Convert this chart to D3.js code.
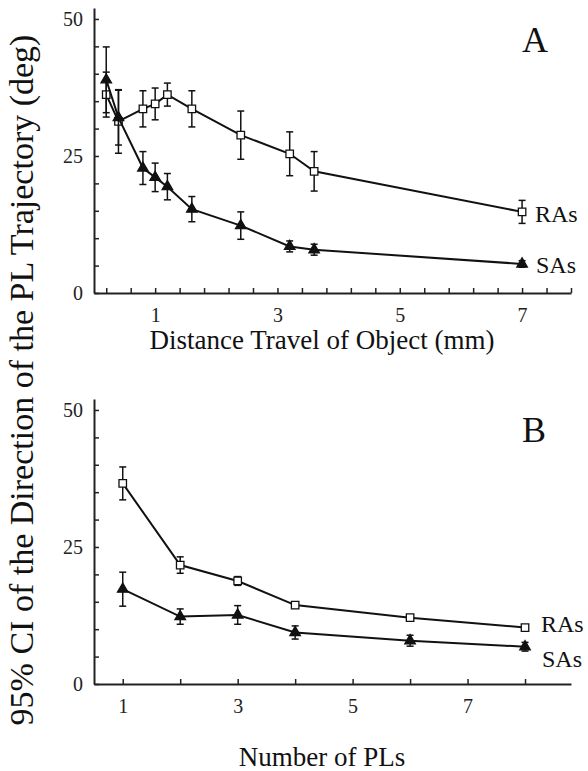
<!DOCTYPE html>
<html>
<head>
<meta charset="utf-8">
<script src="https://cdn.jsdelivr.net/npm/d3@7"></script>
<style>
  body { margin: 0; background: #fff; }
  svg { display: block; font-family: "Liberation Serif", "Times New Roman", serif; }
</style>
</head>
<body>
<svg width="588" height="771"></svg>
<script>
// panel A: distance travelled (mm)
let distA = [0.2, 0.4, 0.8, 1.0, 1.2, 1.6, 2.4, 3.2, 3.6, 7.0]
let raA = [36.2, 31.3, 33.6, 34.5, 36.2, 33.6, 28.8, 25.4, 22.2, 14.8]
let raErrA = [4.1, 5.8, 3.3, 2.9, 2.1, 3.3, 4.4, 4.0, 3.6, 2.1]
let saA = [38.9, 32.0, 22.8, 21.1, 19.4, 15.3, 12.3, 8.5, 7.9, 5.3]
let saErrA = [6.0, 5.0, 3.0, 2.6, 2.4, 2.3, 2.5, 1.0, 1.0, 0.6]

// panel B: number of PLs
let plsB = [1, 2, 3, 4, 6, 8]
let raB = [36.6, 21.7, 18.8, 14.4, 12.1, 10.3]
let raErrB = [3.0, 1.5, 0.8, 0.5, 0.5, 0.3]
let saB = [17.3, 12.3, 12.6, 9.4, 7.9, 6.8]
let saErrB = [3.1, 1.4, 1.7, 1.2, 1.0, 0.8]

// tick positions / labels
let yTicks = d3.range(0, 51, 5)
let yLabels = [0, 25, 50]
let xTicksA = d3.range(0, 20).map(i => +(0.2 + i * 0.4).toFixed(1))
let xTicksB = [1, 2, 3, 4, 5, 6, 7, 8]
let xLabels = [1, 3, 5, 7]

let svg = d3.select('svg')

function panel(cfg) {
    let x = d3.scaleLinear().domain(cfg.xDomain).range([94, 571])
    let y = d3.scaleLinear().domain([0, 52]).range([cfg.y0, cfg.y0 - 285])
    let g = svg.append('g')

    // axes, ticks pointing inward
    let yAxis = d3.axisLeft(y).tickValues(yTicks).tickSizeInner(-5).tickSizeOuter(0).tickPadding(11)
        .tickFormat(d => yLabels.includes(d) ? d : '')
    let xAxis = d3.axisBottom(x).tickValues(cfg.xTicks).tickSizeInner(-5).tickSizeOuter(0).tickPadding(23)
        .tickFormat(d => xLabels.some(v => Math.abs(v - d) < 1e-6) ? Math.round(d) : '')

    let ya = g.append('g').attr('transform', 'translate(94,0)').call(yAxis)
    let xa = g.append('g').attr('transform', `translate(0,${cfg.y0})`).call(xAxis)
    ;[ya, xa].forEach(a => {
        a.select('.domain').attr('stroke', '#222').attr('stroke-width', 2)
        a.selectAll('.tick line').attr('stroke', '#222').attr('stroke-width', 1.5)
        a.selectAll('text').attr('font-family', '"Liberation Serif", serif')
            .attr('font-size', 20).attr('fill', '#222')
    })
    xa.selectAll('text').attr('dy', '0.32em')

    let series = [
        { xs: cfg.xs, ys: cfg.ra, es: cfg.raErr, shape: 'square' },
        { xs: cfg.xs, ys: cfg.sa, es: cfg.saErr, shape: 'triangle' }
    ]
    let line = d3.line().x(d => x(d[0])).y(d => y(d[1]))
    series.forEach(s => {
        let pts = s.xs.map((v, i) => [v, s.ys[i], s.es[i]])
        g.append('path').attr('d', line(pts)).attr('fill', 'none')
            .attr('stroke', '#111').attr('stroke-width', 2)
        let eb = g.append('g').attr('stroke', '#111').attr('stroke-width', 1.5)
        pts.forEach(p => {
            let cx = x(p[0]), t = y(p[1] + p[2]), b = y(p[1] - p[2])
            eb.append('line').attr('x1', cx).attr('x2', cx).attr('y1', t).attr('y2', b)
            eb.append('line').attr('x1', cx - 3.5).attr('x2', cx + 3.5).attr('y1', t).attr('y2', t)
            eb.append('line').attr('x1', cx - 3.5).attr('x2', cx + 3.5).attr('y1', b).attr('y2', b)
        })
        let sym = s.shape === 'square'
            ? d3.symbol().type(d3.symbolSquare).size(56)
            : d3.symbol().type(d3.symbolTriangle).size(48)
        g.selectAll(null).data(pts).enter().append('path')
            .attr('d', sym)
            .attr('transform', p => `translate(${x(p[0])},${y(p[1])})`)
            .attr('fill', s.shape === 'square' ? '#fff' : '#111')
            .attr('stroke', '#111').attr('stroke-width', 1.3)
    })

    g.append('text').attr('x', 522).attr('y', cfg.letterY).attr('font-size', 36).attr('fill', '#111').text(cfg.letter)
    g.append('text').attr('x', cfg.labelX).attr('y', cfg.raLabelY).attr('font-size', 24).attr('fill', '#111').text('RAs')
    g.append('text').attr('x', cfg.labelX + 1).attr('y', cfg.saLabelY).attr('font-size', 24).attr('fill', '#111').text('SAs')
    g.append('text').attr('x', 322).attr('y', cfg.titleY).attr('text-anchor', 'middle')
        .attr('font-size', 27).attr('fill', '#111').text(cfg.title)
}

panel({ xDomain: [0, 7.8], xTicks: xTicksA, y0: 293, xs: distA, ra: raA, raErr: raErrA, sa: saA, saErr: saErrA,
    letter: 'A', letterY: 52, labelX: 535, raLabelY: 222, saLabelY: 273, title: 'Distance Travel of Object (mm)', titleY: 349 })
panel({ xDomain: [0.5, 8.8], xTicks: xTicksB, y0: 684, xs: plsB, ra: raB, raErr: raErrB, sa: saB, saErr: saErrB,
    letter: 'B', letterY: 442, labelX: 541, raLabelY: 632, saLabelY: 667, title: 'Number of PLs', titleY: 766 })

svg.append('text').attr('transform', 'translate(33,380) rotate(-90)').attr('text-anchor', 'middle')
    .attr('font-size', 34).attr('fill', '#111')
    .text('95% CI of the Direction of the PL Trajectory (deg)')
</script>
</body>
</html>
